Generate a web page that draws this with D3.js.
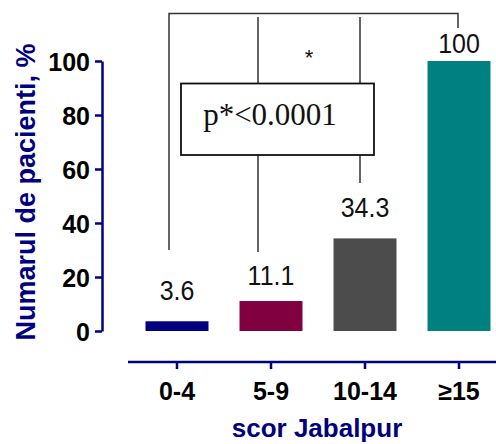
<!DOCTYPE html>
<html><head><meta charset="utf-8">
<script src="https://cdn.jsdelivr.net/npm/d3@7"></script>
<style>body{margin:0;background:#fff}svg{display:block}</style>
</head><body>
<script>
const categories = ["0-4", "5-9", "10-14", "\u226515"];
const values = [3.6, 11.1, 34.3, 100];
const valueLabels = ["3.6", "11.1", "34.3", "100"];
const colors = ["#000080", "#800040", "#4c4c4c", "#008080"];
const yTicks = [0, 20, 40, 60, 80, 100];
const yTitle = "Numarul de pacienti, %";
const xTitle = "scor Jabalpur";
const pText = "p*<0.0001";

const W = 496, H = 444;
const svg = d3.select("body").append("svg").attr("width", W).attr("height", H);
const navy = "#000080";

const y = d3.scaleLinear().domain([0, 100]).range([331, 61]);
const x = d3.scaleBand().domain(categories).range([130, 506]).paddingInner(0.33).paddingOuter(0.165);

// bars
svg.selectAll("rect.bar").data(values).enter().append("rect")
  .attr("x", (d, i) => x(categories[i]))
  .attr("width", x.bandwidth())
  .attr("y", d => y(d))
  .attr("height", d => y(0) - y(d))
  .attr("fill", (d, i) => colors[i]);

// value labels (slightly tall glyphs as in the reference)
const labelGap = [21, 16, 21, 8];
svg.selectAll("text.val").data(values).enter().append("text")
  .attr("transform", (d, i) => `translate(${x(categories[i]) + x.bandwidth() / 2},${y(d) - labelGap[i]}) scale(1,1.12)`)
  .attr("text-anchor", "middle")
  .attr("font-family", "Liberation Sans, Arial, sans-serif")
  .attr("font-size", 25)
  .attr("fill", "#111")
  .text((d, i) => valueLabels[i]);

// y axis
const yAxis = svg.append("g").attr("transform", "translate(102,0)")
  .call(d3.axisLeft(y).tickValues(yTicks).tickSize(7).tickSizeOuter(0).tickPadding(5));
yAxis.select(".domain").attr("stroke", navy).attr("stroke-width", 2.5);
yAxis.selectAll(".tick line").attr("stroke", navy).attr("stroke-width", 2.5);
yAxis.selectAll(".tick text").attr("font-family", "Liberation Sans, Arial, sans-serif")
  .attr("font-size", 25).attr("font-weight", "bold").attr("fill", "#000").attr("dy", "0.36em");

// x axis
const xAxis = svg.append("g").attr("transform", "translate(0,362)")
  .call(d3.axisBottom(x).tickSize(7).tickSizeOuter(0).tickPadding(8));
xAxis.select(".domain").attr("stroke", navy).attr("stroke-width", 2.5).attr("d", "M128,0H506");
xAxis.selectAll(".tick line").attr("stroke", navy).attr("stroke-width", 2.5);
xAxis.selectAll(".tick text").attr("font-family", "Liberation Sans, Arial, sans-serif")
  .attr("font-size", 25).attr("font-weight", "bold").attr("fill", "#000")
  .attr("dy", null).attr("y", 38);

// titles
svg.append("text").attr("x", 317).attr("y", 437).attr("text-anchor", "middle")
  .attr("font-family", "Liberation Sans, Arial, sans-serif").attr("font-size", 26)
  .attr("font-weight", "bold").attr("fill", navy).text(xTitle);
svg.append("text").attr("transform", "translate(35,192) rotate(-90)").attr("text-anchor", "middle")
  .attr("font-family", "Liberation Sans, Arial, sans-serif").attr("font-size", 27)
  .attr("font-weight", "bold").attr("fill", navy).text(yTitle);

// significance brackets
const cx = c => x(c) + x.bandwidth() / 2;
const g = svg.append("g").attr("stroke", "#333").attr("stroke-width", 1.5).attr("fill", "none");
const lx = cx(categories[0]) - 8, rx = cx(categories[3]) - 1;
g.append("path").attr("d", `M${lx},250V13.5H${rx}V28`);
const i1 = cx(categories[1]) - 13, i2 = cx(categories[2]) - 5;
g.append("path").attr("d", `M${i1},17V83M${i2},17V83M${i1},155V252M${i2},155V183`);
svg.append("rect").attr("x", 181).attr("y", 83.5).attr("width", 193).attr("height", 71.5)
  .attr("fill", "#fff").attr("stroke", "#111").attr("stroke-width", 1.8);
svg.append("text").attr("x", 270).attr("y", 125).attr("text-anchor", "middle")
  .attr("font-family", "Liberation Serif, Times New Roman, serif").attr("font-size", 31)
  .attr("fill", "#111").text(pText);
svg.append("text").attr("x", (i1 + i2) / 2).attr("y", 65).attr("text-anchor", "middle")
  .attr("font-family", "Liberation Sans, Arial, sans-serif").attr("font-size", 22)
  .attr("fill", "#111").text("*");
</script>
</body></html>
